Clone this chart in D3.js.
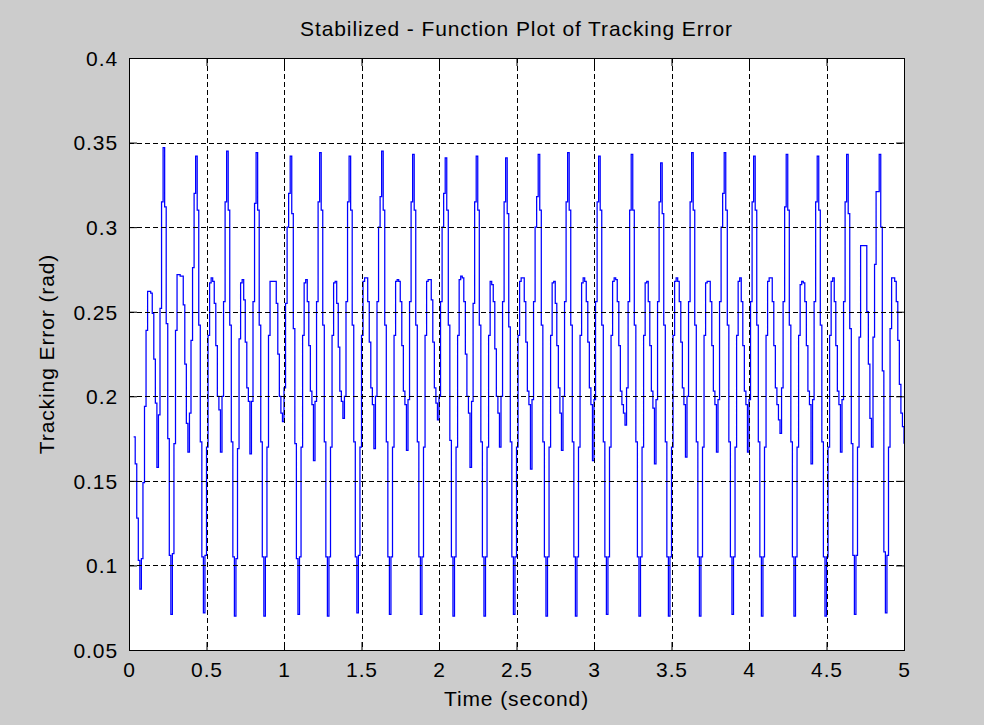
<!DOCTYPE html>
<html>
<head>
<meta charset="utf-8">
<title>Stabilized - Function Plot of Tracking Error</title>
<script src="https://cdn.jsdelivr.net/npm/d3@7"></script>
<style>
  html, body { margin: 0; padding: 0; background: #cccccc; }
  svg { display: block; }
  text { font-family: "Liberation Sans", Arial, Helvetica, sans-serif; fill: #000; }
</style>
</head>
<body>
<svg id="chart" width="984" height="725"></svg>
<script>
// Tracking error samples (rad), held between samples, first sample at startTime.
const startTime = 0.03;   // s
const sampleStep = 0.01;  // s
const errorValues = [
  0.176, 0.160, 0.128, 0.103, 0.086, 0.104, 0.149, 0.194, 0.239, 0.262, 0.262, 0.261, 0.249, 0.222, 0.196, 0.158, 0.189, 0.252, 0.315,
  0.347, 0.312, 0.243, 0.175, 0.106, 0.071, 0.107, 0.172, 0.239, 0.272, 0.272, 0.271, 0.271, 0.254, 0.219, 0.184, 0.167, 0.190, 0.233, 0.276, 0.320,
  0.342, 0.310, 0.242, 0.173, 0.105, 0.072, 0.106, 0.170, 0.236, 0.267, 0.270, 0.268, 0.255, 0.230, 0.200, 0.192, 0.167, 0.200, 0.256, 0.315,
  0.345, 0.310, 0.242, 0.173, 0.105, 0.070, 0.104, 0.169, 0.234, 0.267, 0.269, 0.257, 0.232, 0.205, 0.197, 0.166, 0.197, 0.256, 0.314,
  0.344, 0.310, 0.242, 0.173, 0.105, 0.070, 0.105, 0.170, 0.236, 0.268, 0.268, 0.268, 0.268, 0.255, 0.225, 0.200, 0.190, 0.185, 0.205, 0.255, 0.300, 0.320,
  0.342, 0.308, 0.240, 0.172, 0.104, 0.071, 0.105, 0.170, 0.236, 0.267, 0.269, 0.256, 0.230, 0.203, 0.195, 0.162, 0.197, 0.256, 0.315,
  0.344, 0.310, 0.242, 0.173, 0.105, 0.070, 0.105, 0.170, 0.236, 0.267, 0.268, 0.255, 0.229, 0.203, 0.197, 0.187, 0.200, 0.256, 0.315,
  0.342, 0.310, 0.242, 0.173, 0.105, 0.072, 0.106, 0.170, 0.236, 0.268, 0.270, 0.270, 0.256, 0.232, 0.205, 0.195, 0.169, 0.200, 0.256, 0.300, 0.318,
  0.345, 0.310, 0.242, 0.173, 0.105, 0.071, 0.105, 0.170, 0.236, 0.268, 0.269, 0.268, 0.256, 0.230, 0.203, 0.195, 0.168, 0.198, 0.256, 0.315,
  0.343, 0.310, 0.242, 0.173, 0.105, 0.071, 0.105, 0.170, 0.236, 0.268, 0.269, 0.269, 0.257, 0.232, 0.205, 0.196, 0.186, 0.200, 0.256, 0.300, 0.320,
  0.341, 0.310, 0.242, 0.174, 0.105, 0.070, 0.105, 0.170, 0.236, 0.269, 0.271, 0.270, 0.256, 0.225, 0.200, 0.190, 0.158, 0.197, 0.255, 0.315,
  0.342, 0.310, 0.242, 0.173, 0.105, 0.070, 0.105, 0.170, 0.236, 0.268, 0.266, 0.256, 0.228, 0.200, 0.190, 0.170, 0.200, 0.256, 0.315,
  0.341, 0.308, 0.241, 0.173, 0.105, 0.071, 0.105, 0.170, 0.236, 0.268, 0.270, 0.270, 0.256, 0.232, 0.203, 0.195, 0.157, 0.198, 0.256, 0.300, 0.318,
  0.343, 0.310, 0.242, 0.173, 0.105, 0.070, 0.105, 0.170, 0.236, 0.267, 0.268, 0.255, 0.230, 0.205, 0.190, 0.168, 0.200, 0.256, 0.315,
  0.344, 0.310, 0.242, 0.173, 0.105, 0.070, 0.105, 0.170, 0.236, 0.267, 0.270, 0.268, 0.256, 0.232, 0.205, 0.195, 0.162, 0.198, 0.256, 0.315,
  0.342, 0.310, 0.242, 0.173, 0.105, 0.071, 0.105, 0.170, 0.236, 0.268, 0.270, 0.269, 0.256, 0.230, 0.203, 0.195, 0.190, 0.183, 0.205, 0.256, 0.310,
  0.343, 0.310, 0.242, 0.173, 0.105, 0.070, 0.105, 0.170, 0.236, 0.267, 0.268, 0.256, 0.230, 0.203, 0.193, 0.160, 0.198, 0.256, 0.315,
  0.338, 0.308, 0.242, 0.173, 0.105, 0.070, 0.105, 0.170, 0.236, 0.268, 0.270, 0.268, 0.256, 0.232, 0.205, 0.195, 0.164, 0.200, 0.256, 0.315,
  0.344, 0.310, 0.242, 0.173, 0.105, 0.070, 0.105, 0.170, 0.236, 0.267, 0.268, 0.268, 0.256, 0.230, 0.203, 0.195, 0.167, 0.198, 0.256, 0.300, 0.320,
  0.344, 0.310, 0.242, 0.173, 0.105, 0.071, 0.105, 0.170, 0.236, 0.268, 0.270, 0.256, 0.230, 0.203, 0.195, 0.167, 0.198, 0.256, 0.315,
  0.342, 0.310, 0.242, 0.173, 0.105, 0.070, 0.105, 0.170, 0.236, 0.268, 0.270, 0.270, 0.256, 0.230, 0.205, 0.195, 0.186, 0.178, 0.205, 0.256, 0.312,
  0.343, 0.310, 0.242, 0.173, 0.105, 0.070, 0.105, 0.170, 0.236, 0.266, 0.268, 0.267, 0.256, 0.230, 0.203, 0.195, 0.160, 0.198, 0.256, 0.315,
  0.342, 0.310, 0.242, 0.173, 0.105, 0.070, 0.105, 0.170, 0.236, 0.268, 0.270, 0.256, 0.230, 0.203, 0.195, 0.167, 0.198, 0.256, 0.315,
  0.343, 0.308, 0.240, 0.172, 0.106, 0.071, 0.106, 0.170, 0.235, 0.289, 0.289, 0.289, 0.289, 0.250, 0.219, 0.187, 0.170, 0.235, 0.278, 0.321, 0.321,
  0.343, 0.300, 0.215, 0.108, 0.072, 0.106, 0.170, 0.240, 0.270, 0.270, 0.268, 0.256, 0.233, 0.207, 0.190, 0.182, 0.172
];

// Axis ticks and their labels
const xTicks = [0, 0.5, 1, 1.5, 2, 2.5, 3, 3.5, 4, 4.5, 5];
const xTickLabels = ["0", "0.5", "1", "1.5", "2", "2.5", "3", "3.5", "4", "4.5", "5"];
const yTicks = [0.05, 0.1, 0.15, 0.2, 0.25, 0.3, 0.35, 0.4];
const yTickLabels = ["0.05", "0.1", "0.15", "0.2", "0.25", "0.3", "0.35", "0.4"];

const titleText = "Stabilized - Function Plot of Tracking Error";
const xLabelText = "Time (second)";
const yLabelText = "Tracking Error (rad)";

// Layout
const plot = { left: 129, right: 904, top: 58, bottom: 650 };
const fontSize = 21;
const letterSpacing = 0.9;
const tickLen = 8;

const svg = d3.select("#chart");

const x = d3.scaleLinear().domain([0, 5]).range([plot.left, plot.right]);
const y = d3.scaleLinear().domain([0.05, 0.4]).range([plot.bottom, plot.top]);

const series = errorValues.map((v, i) => ({ t: startTime + i * sampleStep, v }));

// Axes background
svg.append("rect")
  .attr("x", plot.left).attr("y", plot.top)
  .attr("width", plot.right - plot.left).attr("height", plot.bottom - plot.top)
  .attr("fill", "#ffffff");

// Error trace (zero-order hold)
const line = d3.line()
  .x(d => x(d.t))
  .y(d => y(d.v))
  .curve(d3.curveStepAfter);

svg.append("path")
  .datum(series)
  .attr("fill", "none")
  .attr("stroke", "#0000ff")
  .attr("stroke-width", 1.25)
  .attr("d", line);

// Dotted grid
const snap = v => Math.round(v) + 0.5;
const grid = svg.append("g").attr("stroke", "#000").attr("stroke-width", 1).attr("stroke-dasharray", "5,3");
grid.selectAll("line.gx").data(xTicks.slice(1, -1)).join("line")
  .attr("class", "gx")
  .attr("x1", d => snap(x(d))).attr("x2", d => snap(x(d)))
  .attr("y1", plot.top).attr("y2", plot.bottom);
grid.selectAll("line.gy").data(yTicks.slice(1, -1)).join("line")
  .attr("class", "gy")
  .attr("y1", d => snap(y(d))).attr("y2", d => snap(y(d)))
  .attr("x1", plot.left).attr("x2", plot.right);

function styleAxis(g) {
  g.attr("font-family", null).attr("font-size", null);
  g.selectAll("path.domain").remove();
  g.selectAll(".tick line").attr("stroke", "#000").attr("stroke-width", 1);
  g.selectAll("text")
    .style("font-size", fontSize + "px")
    .style("letter-spacing", letterSpacing + "px")
    .attr("fill", "#000");
}

// Bottom axis with labels, ticks pointing inward
svg.append("g")
  .attr("transform", `translate(0,${plot.bottom})`)
  .call(d3.axisBottom(x).tickValues(xTicks).tickFormat((d, i) => xTickLabels[i])
    .tickSizeInner(-tickLen).tickSizeOuter(0).tickPadding(12))
  .call(styleAxis);

// Top axis, ticks only
svg.append("g")
  .attr("transform", `translate(0,${plot.top})`)
  .call(d3.axisTop(x).tickValues(xTicks).tickFormat(() => "")
    .tickSizeInner(-tickLen).tickSizeOuter(0))
  .call(styleAxis);

// Left axis with labels
svg.append("g")
  .attr("transform", `translate(${plot.left},0)`)
  .call(d3.axisLeft(y).tickValues(yTicks).tickFormat((d, i) => yTickLabels[i])
    .tickSizeInner(-tickLen).tickSizeOuter(0).tickPadding(11))
  .call(styleAxis)
  .selectAll("text").attr("dy", "0.35em");

// Right axis, ticks only
svg.append("g")
  .attr("transform", `translate(${plot.right},0)`)
  .call(d3.axisRight(y).tickValues(yTicks).tickFormat(() => "")
    .tickSizeInner(-tickLen).tickSizeOuter(0))
  .call(styleAxis);

// Axes box
svg.append("rect")
  .attr("x", plot.left + 0.5).attr("y", plot.top + 0.5)
  .attr("width", plot.right - plot.left).attr("height", plot.bottom - plot.top)
  .attr("fill", "none").attr("stroke", "#000").attr("stroke-width", 1);

// Title and axis labels
const midX = (plot.left + plot.right) / 2;
const midY = (plot.top + plot.bottom) / 2;

svg.append("text")
  .attr("x", midX).attr("y", 36)
  .attr("text-anchor", "middle")
  .style("font-size", fontSize + "px").style("letter-spacing", letterSpacing + "px")
  .text(titleText);

svg.append("text")
  .attr("x", midX).attr("y", 706)
  .attr("text-anchor", "middle")
  .style("font-size", fontSize + "px").style("letter-spacing", letterSpacing + "px")
  .text(xLabelText);

svg.append("text")
  .attr("transform", `translate(54,${midY}) rotate(-90)`)
  .attr("text-anchor", "middle")
  .style("font-size", fontSize + "px").style("letter-spacing", letterSpacing + "px")
  .text(yLabelText);
</script>
</body>
</html>
